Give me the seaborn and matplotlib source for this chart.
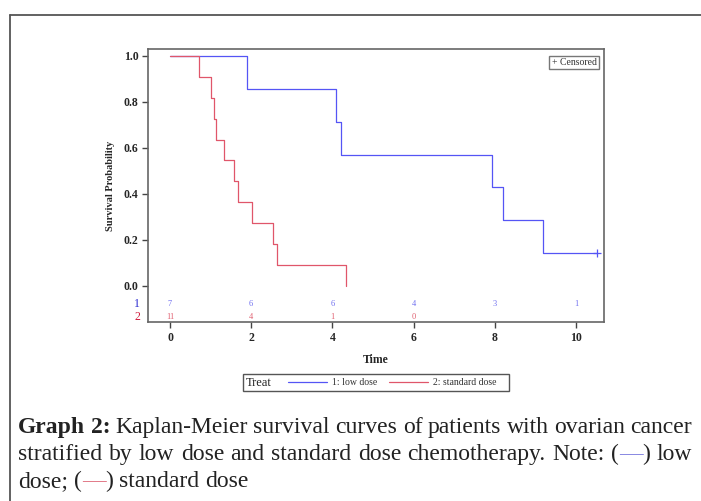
import numpy as np
import pandas as pd
import matplotlib
matplotlib.use("Agg")
import matplotlib.pyplot as plt
from matplotlib.lines import Line2D
from matplotlib.patches import Rectangle
import seaborn as sns

# Kaplan-Meier steps
low_times = [0, 1.89, 4.10, 4.21, 7.92, 8.21, 9.20, 10.51]
low_surv = [1.0, 0.857, 0.714, 0.571, 0.429, 0.286, 0.143, 0.143]
std_times = [0, 0.71, 1.02, 1.08, 1.13, 1.32, 1.57, 1.68, 2.03, 2.54, 2.63, 4.33]
std_surv = [1.0, 0.909, 0.818, 0.727, 0.636, 0.545, 0.455, 0.364, 0.273, 0.182, 0.091, 0.0]
censor_time = [10.51]
censor_surv = [0.143]

# number at risk
risk_times = [0, 2, 4, 6, 8, 10]
risk_low = [7, 6, 6, 4, 3, 1]
risk_std = [11, 4, 1, 0]

group_names = ["1: low dose", "2: standard dose"]

blue = "#5555f5"
red = "#e0566a"

sns.set_style("white")
plt.rcParams["font.family"] = ["Liberation Serif", "DejaVu Serif"]

km = pd.concat([
    pd.DataFrame({"time": low_times, "surv": low_surv, "group": group_names[0]}),
    pd.DataFrame({"time": std_times, "surv": std_surv, "group": group_names[1]}),
])

fig = plt.figure(figsize=(7.01, 5.01), dpi=100)
ax = fig.add_axes([0.2116, 0.3567, 0.650, 0.545])

sns.lineplot(data=km, x="time", y="surv", hue="group", palette=[blue, red],
             drawstyle="steps-post", estimator=None, legend=False, lw=0.9, ax=ax)
sns.scatterplot(x=censor_time, y=censor_surv, marker="+", color=blue, s=30,
                linewidth=0.9, ax=ax)

ax.set_xlim(-0.534, 10.69)
ax.set_ylim(-0.159, 1.029)
ax.set_xticks(risk_times)
ax.set_yticks([0.0, 0.2, 0.4, 0.6, 0.8, 1.0])
ax.set_yticklabels([f"{v:.1f}" for v in [0.0, 0.2, 0.4, 0.6, 0.8, 1.0]])
ax.tick_params(axis="both", direction="out", length=4, width=1, color="#444444",
               labelsize=8.5, pad=3, bottom=True, left=True)
for lab in ax.get_xticklabels() + ax.get_yticklabels():
    lab.set_fontweight("bold")
for sp in ax.spines.values():
    sp.set_color("#666666")
    sp.set_linewidth(1.2)
ax.set_xlabel("Time", fontsize=8.5, fontweight="bold", labelpad=7)
ax.set_ylabel("Survival Probability", fontsize=7.5, fontweight="bold", labelpad=6)

# at-risk table inside the axes
for t, n in zip(risk_times, risk_low):
    ax.text(t, -0.08, str(n), color="#7070f0", fontsize=6, ha="center", va="center")
for t, n in zip(risk_times, risk_std):
    ax.text(t, -0.135, str(n), color="#e06070", fontsize=6, ha="center", va="center")
ax.text(137 / 701, 1 - 304 / 501, "1", transform=fig.transFigure, color="#2a2ad0",
        fontsize=8.5, ha="center", va="center")
ax.text(137 / 701, 1 - 316.7 / 501, "2", transform=fig.transFigure, color="#d01c3c",
        fontsize=8.5, ha="center", va="center")

# censored box
ax.text(0.984, 0.968, "+ Censored", transform=ax.transAxes, fontsize=7, ha="right",
        va="top", color="#333333",
        bbox=dict(boxstyle="square,pad=0.25", fc="white", ec="#777777", lw=1))

# legend box below the plot
fig.add_artist(Rectangle((242.7 / 701, 1 - 390.7 / 501), (509 - 242.7) / 701,
                         16.7 / 501, transform=fig.transFigure, fill=False,
                         ec="#555555", lw=1))
ly = 1 - 382.3 / 501
fig.text(246 / 701, 1 - 383.5 / 501, "Treat", fontsize=9, va="center", color="#222222")
fig.add_artist(Line2D([288 / 701, 326.7 / 701], [ly, ly], color=blue, lw=0.9))
fig.text(332 / 701, ly, group_names[0], fontsize=7, va="center", color="#333333")
fig.add_artist(Line2D([388.7 / 701, 428 / 701], [ly, ly], color=red, lw=0.9))
fig.text(433 / 701, ly, group_names[1], fontsize=7, va="center", color="#333333")

# outer frame
fig.add_artist(Line2D([9.5 / 701, 1], [1 - 14.5 / 501, 1 - 14.5 / 501], color="#555555", lw=1.3))
fig.add_artist(Line2D([9.5 / 701, 9.5 / 701], [0, 1 - 14.5 / 501], color="#555555", lw=1.3))

# caption, drawn word by word so lines can be justified
renderer = fig.canvas.get_renderer()
cap_size = 17
dark = "#222222"


def text_width(txt, weight):
    t = fig.text(0, 0, txt, fontsize=cap_size, fontweight=weight)
    w = t.get_window_extent(renderer).width
    t.remove()
    return w


def draw_line(y_px, words, x0=18, x1=692, justify=True):
    # words: list of words, each word a list of (text, color, weight) pieces
    widths = [sum(text_width(p[0], p[2]) for p in w) for w in words]
    space = text_width("a b", "normal") - text_width("ab", "normal")
    if justify:
        space = (x1 - x0 - sum(widths)) / (len(words) - 1)
    x = x0
    for w, wd in zip(words, widths):
        for txt, color, weight in w:
            fig.text(x / 701, 1 - y_px / 501, txt, fontsize=cap_size, color=color,
                     fontweight=weight, va="baseline", ha="left")
            x += text_width(txt, weight)
        x += space


def plain(s, weight="normal"):
    return [[(w, dark, weight)] for w in s.split()]


line1 = [[("Graph", dark, "bold")], [("2:", dark, "bold")]] + \
    plain("Kaplan-Meier survival curves of patients with ovarian cancer")
line2 = plain("stratified by low dose and standard dose chemotherapy. Note:") + \
    [[("(", dark, "normal"), ("\u2014", "#8080e0", "normal"), (")", dark, "normal")]] + plain("low")
line3 = plain("dose;") + \
    [[("(", dark, "normal"), ("\u2014", "#e07080", "normal"), (")", dark, "normal")]] + \
    plain("standard dose")

draw_line(433, line1)
draw_line(460, line2)
draw_line(487, line3, justify=False)

fig.savefig("out.png", dpi=100)
